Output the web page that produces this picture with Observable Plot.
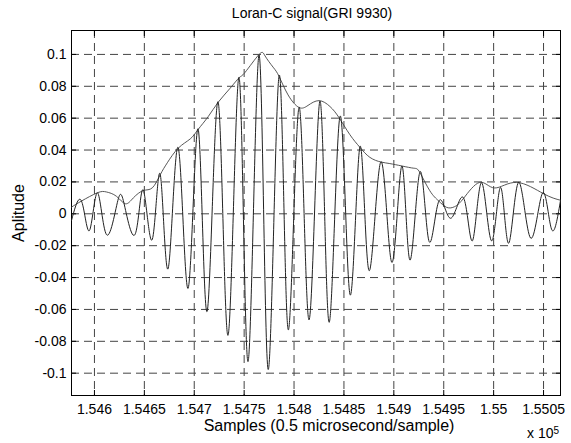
<!DOCTYPE html>
<html>
<head>
<meta charset="utf-8">
<script src="https://cdn.jsdelivr.net/npm/d3@7"></script>
<script src="https://cdn.jsdelivr.net/npm/@observablehq/plot@0.6"></script>
<style>
  body { margin: 0; background: #fff; font-family: "Liberation Sans", Arial, sans-serif; }
  #wrap { position: relative; width: 571px; height: 443px; }
  #title { position: absolute; left: 312px; top: 6px; transform: translateX(-50%); font-size: 14px; line-height: 14px; white-space: nowrap; color: #000; }
  #chart { position: absolute; left: 0; top: 22px; }
  #exp { position: absolute; left: 527px; top: 426px; font-size: 14px; line-height: 14px; color: #000; white-space: nowrap; }
  #exp sup { font-size: 10px; position: relative; top: -2px; vertical-align: top; }
</style>
</head>
<body>
<div id="wrap">
  <div id="title">Loran-C signal(GRI 9930)</div>
  <div id="chart"></div>
  <div id="exp">x 10<sup>5</sup></div>
</div>
<script>
// Sample index of each turning point of the received pulse and its amplitude
const signalSamples = [
  154577, 154587, 154595, 154603, 154612, 154623, 154630, 154641, 154649, 154658,
  154666, 154674, 154684, 154694, 154704, 154713, 154724, 154734, 154745, 154754,
  154765, 154774, 154785, 154794, 154805, 154815, 154826, 154835, 154846, 154856,
  154866, 154875, 154887, 154898, 154908, 154916, 154926, 154935, 154945, 154957,
  154970, 154979, 154988, 154998, 155007, 155015, 155025, 155037, 155049, 155058,
  155067
];
const signalValues = [
  -0.0042, 0.0080, -0.0105, 0.0132, -0.0130, 0.0072, 0.0055, -0.0125, 0.0148, -0.0160,
  0.0245, -0.0340, 0.0413, -0.0465, 0.0530, -0.0610, 0.0700, -0.0760, 0.0854, -0.0926,
  0.0996, -0.0976, 0.0866, -0.0725, 0.0667, -0.0666, 0.0708, -0.0680, 0.0610, -0.0505,
  0.0420, -0.0355, 0.0326, -0.0305, 0.0300, -0.0290, 0.0260, -0.0167, 0.0078, -0.0028,
  0.0098, -0.0167, 0.0195, -0.0170, 0.0166, -0.0185, 0.0197, -0.0152, 0.0130, -0.0096,
  0.0083
];

// Upper envelope of the pulse
const envelopeSamples = [
  154577, 154587, 154603, 154612, 154622, 154631, 154639, 154649, 154658, 154666,
  154673, 154684, 154696, 154704, 154714, 154724, 154736, 154745, 154751, 154765,
  154771, 154779, 154785, 154794, 154805, 154814, 154825, 154836, 154845, 154856,
  154866, 154876, 154887, 154896, 154908, 154920, 154926, 154936, 154945, 154953,
  154961, 154970, 154986, 155001, 155023, 155050, 155067
];
const envelopeValues = [
  0.0042, 0.0080, 0.0132, 0.0137, 0.0110, 0.0063, 0.0100, 0.0146, 0.0163, 0.0246,
  0.0320, 0.0412, 0.0470, 0.0530, 0.0610, 0.0700, 0.0788, 0.0854, 0.0888, 0.1000,
  0.0990, 0.0920, 0.0862, 0.0746, 0.0667, 0.0680, 0.0710, 0.0673, 0.0604, 0.0496,
  0.0417, 0.0354, 0.0325, 0.0315, 0.0300, 0.0286, 0.0260, 0.0145, 0.0080, 0.0040,
  0.0045, 0.0098, 0.0197, 0.0162, 0.0197, 0.0126, 0.0085
];

// Axis ticks and their labels
const xTicks = [154600, 154650, 154700, 154750, 154800, 154850, 154900, 154950, 155000, 155050];
const xTickLabels = ["1.546", "1.5465", "1.547", "1.5475", "1.548", "1.5485", "1.549", "1.5495", "1.55", "1.5505"];
const yTicks = [-0.1, -0.08, -0.06, -0.04, -0.02, 0, 0.02, 0.04, 0.06, 0.08, 0.1];
const yTickLabels = ["-0.1", "-0.08", "-0.06", "-0.04", "-0.02", "0", "0.02", "0.04", "0.06", "0.08", "0.1"];

const signal = signalSamples.map((s, i) => ({s, v: signalValues[i]}));
const envelope = envelopeSamples.map((s, i) => ({s, v: envelopeValues[i]}));

const gridStyle = {stroke: "#444", strokeOpacity: 1, strokeWidth: 1, strokeDasharray: "8,5"};

const chart = Plot.plot({
  width: 571,
  height: 421,
  marginLeft: 71,
  marginRight: 11,
  marginTop: 8,
  marginBottom: 48,
  style: {fontFamily: "'Liberation Sans', Arial, sans-serif", fontSize: "14px", color: "#000", background: "transparent"},
  x: {domain: [154577, 155067]},
  y: {domain: [-0.114, 0.115]},
  marks: [
    Plot.gridX(xTicks, gridStyle),
    Plot.gridY(yTicks, gridStyle),
    Plot.axisX(xTicks, {anchor: "bottom", tickSize: -5, tickPadding: 13.5, tickFormat: d => xTickLabels[xTicks.indexOf(d)], label: null}),
    Plot.axisX(xTicks, {anchor: "top", tickSize: -5, tickFormat: () => "", label: null}),
    Plot.axisY(yTicks, {anchor: "left", tickSize: -5, tickPadding: 10, tickFormat: d => yTickLabels[yTicks.indexOf(d)], label: null}),
    Plot.axisY(yTicks, {anchor: "right", tickSize: -5, tickFormat: () => "", label: null}),
    Plot.frame({stroke: "#000", strokeWidth: 1}),
    Plot.line(envelope, {x: "s", y: "v", curve: "natural", stroke: "#444", strokeWidth: 0.9}),
    Plot.line(signal, {x: "s", y: "v", curve: "natural", stroke: "#222", strokeWidth: 1}),
    Plot.text(["Samples (0.5 microsecond/sample)"], {text: d => d, frameAnchor: "bottom", textAnchor: "middle", dy: 35, dx: 13, fontSize: 16})
    ,
    Plot.text(["Aplitude"], {text: d => d, frameAnchor: "left", textAnchor: "middle", dx: -53, rotate: -90, fontSize: 16})
  ]
});
document.getElementById("chart").appendChild(chart);
</script>
</body>
</html>
